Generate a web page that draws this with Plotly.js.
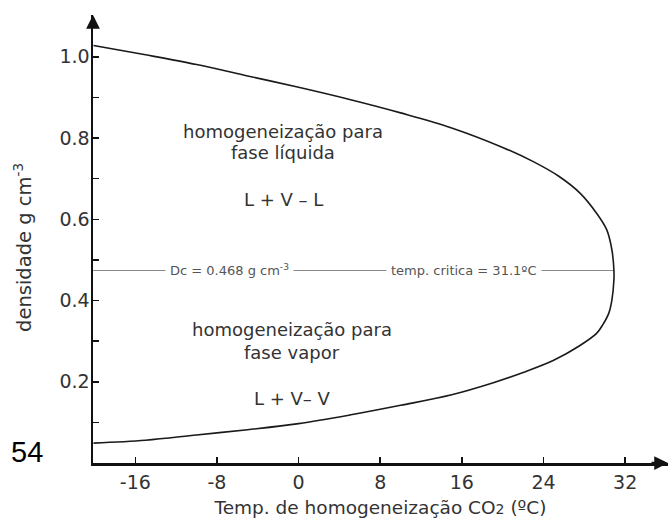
<!DOCTYPE html>
<html>
<head>
<meta charset="utf-8">
<script src="https://cdn.plot.ly/plotly-3.0.1.min.js"></script>
<style>html,body{margin:0;padding:0;background:#fff;}#chart{width:670px;height:518px;}</style>
</head>
<body>
<div id="chart"></div>
<script>
// Liquid branch (upper), temperature (°C) and density (g/cm3)
const liquidT = [-20.1, -15, -10, -5, 0, 5, 10, 15, 20, 23, 25.5, 27.6, 29.2, 30.2, 30.7, 30.9];
const liquidD = [1.028, 1.005, 0.981, 0.953, 0.925, 0.895, 0.862, 0.825, 0.777, 0.742, 0.706, 0.664, 0.615, 0.574, 0.525, 0.474];
// Vapor branch (lower), from critical point back to the left
const vaporT = [30.9, 30.7, 30.4, 29.8, 29.2, 27.5, 25, 22, 19, 15, 10, 5, 0, -5, -10, -15, -20.1];
const vaporD = [0.451, 0.401, 0.369, 0.340, 0.319, 0.288, 0.253, 0.223, 0.197, 0.168, 0.142, 0.118, 0.097, 0.082, 0.069, 0.056, 0.049];
// Critical line
const critLineT = [-20.15, 30.9];
const critLineD = [0.474, 0.474];

const xTickVals = [-16, -8, 0, 8, 16, 24, 32];
const xTickText = ["-16", "-8", "0", "8", "16", "24", "32"];
const yTickVals = [0.2, 0.4, 0.6, 0.8, 1.0];
const yTickText = ["0.2", "0.4", "0.6", "0.8", "1.0"];
const yMinorVals = [0.1, 0.3, 0.5, 0.7, 0.9];

const upperLabels = ["homogeneização para", "fase líquida", "L + V – L"];
const lowerLabels = ["homogeneização para", "fase vapor", "L + V– V"];
const critLabels = ["Dc = 0.468 g cm<sup>-3</sup>", "temp. critica = 31.1ºC"];
const xTitle = "Temp. de homogeneização CO<span style=\"font-size:14px\">2</span> (ºC)";
const yTitle = "densidade g cm<sup>-3</sup>";
const pageLabel = "54";

const curveT = liquidT.concat(vaporT);
const curveD = liquidD.concat(vaporD);

const FONT = "DejaVu Sans, Verdana, sans-serif";
const TXT = "#333333";

const traces = [
  {x: critLineT, y: critLineD, mode: "lines", line: {color: "#8a8a8a", width: 1.2}, hoverinfo: "skip", showlegend: false},
  {x: curveT, y: curveD, mode: "lines", line: {color: "#1a1a1a", width: 1.6, shape: "spline", smoothing: 1}, hoverinfo: "skip", showlegend: false}
];

const ann = [];
const upY = [0.815, 0.764, 0.648];
upperLabels.forEach((t, i) => ann.push({x: -1.5, y: upY[i], xref: "x", yref: "y", text: t, showarrow: false,
  font: {family: FONT, size: 18, color: TXT}, xanchor: "center", yanchor: "middle"}));
const loY = [0.328, 0.271, 0.160];
lowerLabels.forEach((t, i) => ann.push({x: -0.6, y: loY[i], xref: "x", yref: "y", text: t, showarrow: false,
  font: {family: FONT, size: 18, color: TXT}, xanchor: "center", yanchor: "middle"}));
const critX = [-6.8, 16.2];
critLabels.forEach((t, i) => ann.push({x: critX[i], y: critLineD[0], xref: "x", yref: "y", text: t, showarrow: false,
  font: {family: FONT, size: 13, color: "#555"}, bgcolor: "#ffffff", borderpad: 4, xanchor: "center", yanchor: "middle"}));
ann.push({x: -0.115, y: 0.025, xref: "paper", yref: "paper", text: pageLabel, showarrow: false,
  font: {family: "Liberation Sans, Arial, sans-serif", size: 29, color: "#000"}, xanchor: "center", yanchor: "middle"});
// y axis title as rotated annotation
ann.push({x: -0.1217, y: 0.48, xref: "paper", yref: "paper", text: yTitle, showarrow: false, textangle: -90,
  font: {family: FONT, size: 19.5, color: TXT}, xanchor: "center", yanchor: "middle"});
// axis arrows
ann.push({x: 36.2, y: 0, xref: "x", yref: "y", ax: -20, ay: 0, text: " ", showarrow: true, arrowhead: 2, arrowsize: 1.1, arrowwidth: 2.5, arrowcolor: "#111"});
ann.push({x: -20.15, y: 1.103, xref: "x", yref: "y", ax: 0, ay: 20, text: " ", showarrow: true, arrowhead: 2, arrowsize: 1.1, arrowwidth: 2.5, arrowcolor: "#111"});

const layout = {
  width: 670, height: 518,
  margin: {l: 93, r: 2, t: 15, b: 55},
  paper_bgcolor: "#fff", plot_bgcolor: "#fff",
  showlegend: false,
  font: {family: FONT, color: TXT},
  xaxis: {
    range: [-20.15, 36.2], showgrid: false, zeroline: false,
    showline: true, linecolor: "#111", linewidth: 2.5,
    ticks: "inside", ticklen: 6, tickwidth: 1.5, tickcolor: "#111",
    tickvals: xTickVals, ticktext: xTickText,
    tickfont: {family: FONT, size: 19, color: TXT}, ticklabelstandoff: 1,
    title: {text: xTitle, font: {family: FONT, size: 18.5, color: TXT}, standoff: 10}
  },
  yaxis: {
    range: [0, 1.103], showgrid: false, zeroline: false,
    showline: true, linecolor: "#111", linewidth: 2.5,
    ticks: "inside", ticklen: 6, tickwidth: 1.5, tickcolor: "#111",
    tickvals: yTickVals, ticktext: yTickText,
    minor: {tickvals: yMinorVals, ticks: "inside", ticklen: 6, tickwidth: 1.5, tickcolor: "#111"},
    tickfont: {family: FONT, size: 19, color: TXT}, ticklabelstandoff: -3
  },
  annotations: ann
};

Plotly.newPlot("chart", traces, layout, {displayModeBar: false, staticPlot: true});
</script>
</body>
</html>
